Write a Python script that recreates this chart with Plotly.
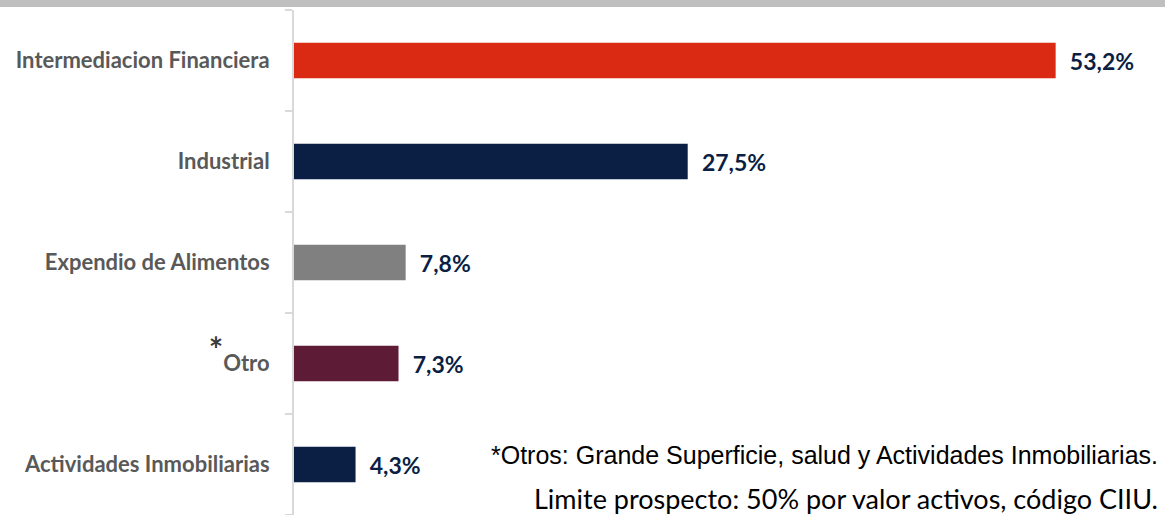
import plotly.graph_objects as go

categories = ["Intermediacion Financiera", "Industrial", "Expendio de Alimentos", "Otro", "Actividades Inmobiliarias"]
tick_labels = ["Intermediacion Financiera", "Industrial", "Expendio de Alimentos",
               "<sup><span style='font-size:34px;color:#3a3a3a'>*</span></sup>Otro", "Actividades Inmobiliarias"]
values = [53.2, 27.5, 7.8, 7.3, 4.3]
colors = ["#da2a13", "#0b1f45", "#808080", "#5e1b35", "#0b1f45"]
footnote1 = "*Otros: Grande Superficie, salud y Actividades Inmobiliarias."
footnote2 = "Limite prospecto: 50% por valor activos, código CIIU."

W, H = 1165, 515
T, B, L, R = 10, 0, 294, 12
PH = H - T - B

labels = ["\u00a0\u00a0" + f"{v:.1f}".replace(".", ",") + "%" for v in values]

fig = go.Figure(go.Bar(
    y=categories, x=values, orientation="h",
    marker=dict(color=colors, line=dict(width=0)),
    width=0.35,
    text=labels, textposition="outside", cliponaxis=False,
    textfont=dict(family="Lato", size=23, color="#0b1f45", weight="bold"),
    hoverinfo="skip",
))

fig.update_layout(
    width=W, height=H,
    margin=dict(l=L, r=R, t=T, b=B),
    plot_bgcolor="white", paper_bgcolor="white",
    showlegend=False,
    xaxis=dict(range=[0, 60], visible=False, fixedrange=True),
    yaxis=dict(
        categoryorder="array", categoryarray=categories, autorange="reversed",
        tickmode="array", tickvals=categories, ticktext=tick_labels,
        showline=True, linecolor="#d9d9d9", linewidth=2,
        ticks="outside", tickson="boundaries", ticklen=7, tickcolor="#d9d9d9", tickwidth=1.5,
        tickfont=dict(family="Lato", size=22, color="#595959", weight="bold"),
        ticklabelstandoff=18, showgrid=False, fixedrange=True,
    ),
    shapes=[dict(type="rect", xref="paper", yref="paper", x0=-L / (W - L - R), x1=1 + R / (W - L - R),
                 y0=1 + (T - 7) / PH, y1=1 + T / PH, fillcolor="#bfbfbf", line=dict(width=0), layer="above")],
    annotations=[
        dict(text=footnote1, xref="paper", yref="paper", x=1 + (R - 5) / (W - L - R), y=(H - 455) / PH,
             xanchor="right", yanchor="middle", showarrow=False,
             font=dict(family="Liberation Sans", size=25, color="#000000")),
        dict(text=footnote2, xref="paper", yref="paper", x=1 + (R - 5) / (W - L - R), y=(H - 498) / PH,
             xanchor="right", yanchor="middle", showarrow=False,
             font=dict(family="Lato", size=27, color="#000000")),
    ],
)

fig.write_html("out.html", config={"displayModeBar": False})

with open("out.html", "r", encoding="utf-8") as f:
    html = f.read()
html = html.replace("<head>", "<head><style>html,body{margin:0;padding:0;overflow:hidden;}</style>", 1)
with open("out.html", "w", encoding="utf-8") as f:
    f.write(html)
